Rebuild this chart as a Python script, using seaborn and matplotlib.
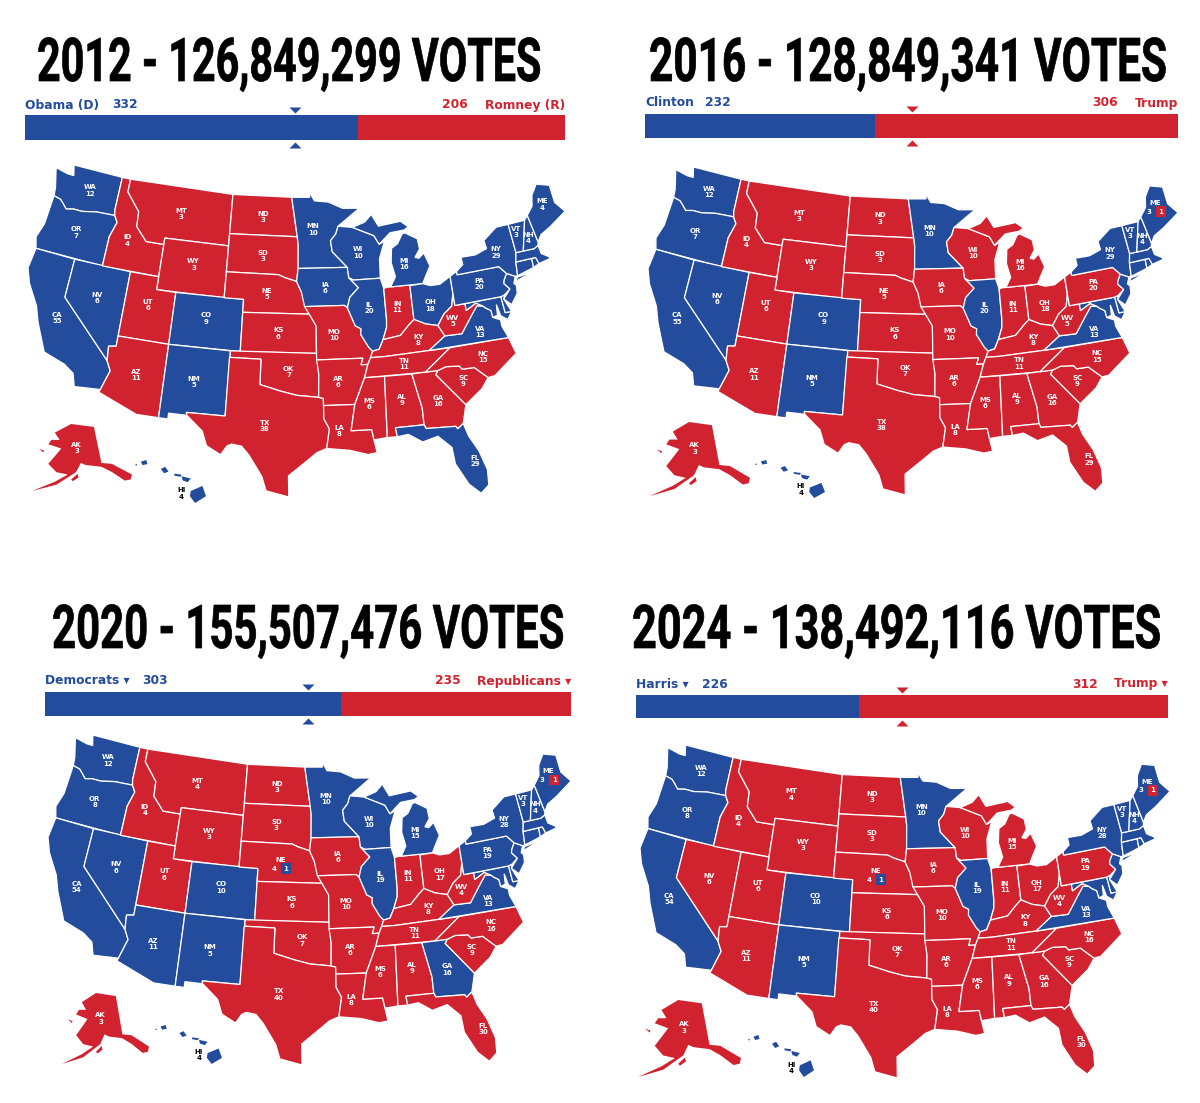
import numpy as np
import pandas as pd
import matplotlib
matplotlib.use('Agg')
import matplotlib.pyplot as plt
import matplotlib.patheffects as pe
from matplotlib.path import Path
from matplotlib.transforms import Affine2D
import seaborn as sns

W, H = 1200, 1103
azul = '#234c9c'
vermelho = '#d1232f'

# dados das eleicoes
anos = [2012, 2016, 2020, 2024]
votos = ['126,849,299', '128,849,341', '155,507,476', '138,492,116']
nome_dem = ['Obama (D)', 'Clinton', 'Democrats ▾', 'Harris ▾']
nome_rep = ['Romney (R)', 'Trump', 'Republicans ▾', 'Trump ▾']
ev_dem = [332, 232, 303, 226]
ev_rep = [206, 306, 235, 312]

dem_2012 = 'WA OR CA NV CO NM MN WI IA IL MI OH PA VA FL NY VT NH ME MA RI CT NJ DE MD HI'.split()
dem_2016 = 'WA OR CA NV CO NM MN IL VA NY VT NH ME MA RI CT NJ DE MD HI'.split()
dem_2020 = 'WA OR CA NV AZ CO NM MN WI MI IL PA GA VA NY VT NH ME MA RI CT NJ DE MD HI'.split()
dem_2024 = 'WA OR CA CO NM MN IL VA NY VT NH ME MA RI CT NJ DE MD HI'.split()
dem_por_ano = [dem_2012, dem_2016, dem_2020, dem_2024]

# votos eleitorais mostrados nos mapas (2012 e 2016 / 2020 e 2024)
ev_2010 = dict(WA=12, OR=7, CA=55, NV=6, ID=4, MT=3, WY=3, UT=6, CO=9, AZ=11, NM=5, ND=3, SD=3, NE=5,
               KS=6, OK=7, TX=38, MN=10, IA=6, MO=10, AR=6, LA=8, WI=10, IL=20, IN=11, MI=16, OH=18,
               KY=8, TN=11, MS=6, AL=9, GA=16, FL=29, SC=9, NC=15, VA=13, WV=5, PA=20, NY=29, VT=3,
               NH=4, ME=4, AK=3, HI=4)
ev_2020 = dict(WA=12, OR=8, CA=54, NV=6, ID=4, MT=4, WY=3, UT=6, CO=10, AZ=11, NM=5, ND=3, SD=3, NE=5,
               KS=6, OK=7, TX=40, MN=10, IA=6, MO=10, AR=6, LA=8, WI=10, IL=19, IN=11, MI=15, OH=17,
               KY=8, TN=11, MS=6, AL=9, GA=16, FL=30, SC=9, NC=16, VA=13, WV=4, PA=19, NY=28, VT=3,
               NH=4, ME=4, AK=3, HI=4)
ev_por_ano = [ev_2010, ev_2010, ev_2020, ev_2020]
maine_dividido = [False, True, True, True]
nebraska_dividido = [False, False, True, True]

# contornos dos estados (lon, lat), lidos a mao
estados = {
    'WA': [[(-124.7,48.4),(-123.2,48.2),(-122.5,48.2),(-122.8,49),(-117.03,49),(-117.04,46.4),(-116.92,45.99),(-119,45.93),(-120.5,45.7),(-121.5,45.7),(-122.3,45.55),(-122.8,45.9),(-123.2,46.15),(-124,46.27),(-124.1,46.9)]],
    'OR': [[(-124,46.27),(-123.2,46.15),(-122.8,45.9),(-122.3,45.55),(-121.5,45.7),(-120.5,45.7),(-119,45.93),(-116.92,45.99),(-116.5,45.5),(-117,44.3),(-117.03,42),(-124.2,42),(-124.55,42.85),(-124.1,44)]],
    'CA': [[(-124.2,42),(-120,42),(-120,39),(-114.63,35),(-114.15,34.27),(-114.72,32.72),(-117.12,32.53),(-117.5,33.5),(-118.5,34.03),(-120.6,34.55),(-121.9,36.6),(-122.5,37.8),(-123.8,39.3),(-124.4,40.4)]],
    'NV': [[(-120,42),(-114.04,42),(-114.04,36.2),(-114.75,36.1),(-114.63,35),(-120,39)]],
    'ID': [[(-117.03,49),(-116.05,49),(-116.05,48),(-114.4,46.65),(-114.3,45.5),(-113,44.5),(-111.05,44.5),(-111.05,42),(-117.03,42),(-117,44.3),(-116.5,45.5),(-116.92,45.99),(-117.04,46.4)]],
    'MT': [[(-116.05,49),(-104.05,49),(-104.05,45),(-111.05,45),(-111.05,44.5),(-113,44.5),(-114.3,45.5),(-114.4,46.65),(-116.05,48)]],
    'WY': [[(-111.05,45),(-104.05,45),(-104.05,41),(-111.05,41)]],
    'UT': [[(-114.04,42),(-111.05,42),(-111.05,41),(-109.05,41),(-109.05,37),(-114.04,37)]],
    'CO': [[(-109.05,41),(-102.05,41),(-102.05,37),(-109.05,37)]],
    'AZ': [[(-114.04,37),(-109.05,37),(-109.05,31.33),(-111.07,31.33),(-114.81,32.5),(-114.72,32.72),(-114.15,34.27),(-114.63,35),(-114.75,36.1),(-114.04,36.2)]],
    'NM': [[(-109.05,37),(-103,37),(-103.05,32),(-106.6,32),(-106.53,31.78),(-108.2,31.78),(-108.2,31.33),(-109.05,31.33)]],
    'ND': [[(-104.05,49),(-97.23,49),(-96.56,45.94),(-104.05,45.94)]],
    'SD': [[(-104.05,45.94),(-96.56,45.94),(-96.45,45.3),(-96.45,43.5),(-96.6,42.5),(-97.9,42.8),(-98.5,43),(-104.05,43)]],
    'NE': [[(-104.05,43),(-98.5,43),(-97.9,42.8),(-96.6,42.5),(-96.1,41.7),(-95.3,40),(-102.05,40),(-102.05,41),(-104.05,41)]],
    'KS': [[(-102.05,40),(-95.3,40),(-94.6,39.1),(-94.62,37),(-102.05,37)]],
    'OK': [[(-103,37),(-94.62,37),(-94.43,35.4),(-94.48,33.64),(-96.5,33.8),(-98,34.1),(-100,34.56),(-100,36.5),(-103,36.5)]],
    'TX': [[(-103.05,36.5),(-100,36.5),(-100,34.56),(-98,34.1),(-96.5,33.8),(-94.48,33.64),(-94.04,33.55),(-94.04,31.99),(-93.55,31.2),(-93.84,29.7),(-94.7,29.4),(-95.4,28.9),(-97.2,27.6),(-97.15,25.96),(-99.1,26.4),(-99.5,27.5),(-100.7,29.1),(-101.4,29.77),(-102.3,29.88),(-102.7,29.7),(-103.2,29),(-104.5,29.6),(-105,30.7),(-106.53,31.78),(-106.6,32),(-103.05,32)]],
    'MN': [[(-97.23,49),(-95.15,49),(-95.15,49.38),(-94.6,48.72),(-93,48.6),(-91.4,48.07),(-89.5,48),(-92,46.7),(-92.3,46.1),(-92.9,45.6),(-92.75,44.75),(-91.2,43.5),(-96.45,43.5),(-96.45,45.3),(-96.56,45.94)]],
    'IA': [[(-96.45,43.5),(-91.2,43.5),(-91.1,42.7),(-90.15,41.9),(-91.1,41.2),(-91.4,40.4),(-91.7,40.6),(-95.77,40.58),(-96.1,41.7),(-96.6,42.5)]],
    'MO': [[(-95.77,40.58),(-91.7,40.6),(-91.4,40.4),(-90.7,39),(-90.15,38.75),(-90.2,38.3),(-89.5,37.3),(-89.15,36.98),(-89.4,36.5),(-89.7,36),(-90.37,36),(-90.15,36.5),(-94.62,36.5),(-94.62,39.1),(-95.3,40)]],
    'AR': [[(-94.62,36.5),(-90.15,36.5),(-90.37,36),(-89.7,36),(-90.1,35),(-91.15,33),(-94.04,33),(-94.04,33.55),(-94.48,33.64),(-94.43,35.4)]],
    'LA': [[(-94.04,33),(-91.15,33),(-91.6,31),(-89.75,31),(-89.6,30.2),(-89.4,29.2),(-90.2,29.1),(-91.8,29.5),(-93.84,29.7),(-93.55,31.2),(-94.04,31.99)]],
    'WI': [[(-92,46.7),(-90.4,46.55),(-88.1,45.8),(-87.6,45.1),(-87,45.3),(-87.7,44),(-87.8,42.5),(-90.64,42.5),(-91.1,42.7),(-91.2,43.5),(-92.75,44.75),(-92.9,45.6),(-92.3,46.1)]],
    'IL': [[(-90.64,42.5),(-87.8,42.5),(-87.53,41.7),(-87.53,39.3),(-87.6,38.7),(-88.05,37.8),(-88.5,37.1),(-89.15,36.98),(-89.5,37.3),(-90.2,38.3),(-90.15,38.75),(-90.7,39),(-91.4,40.4),(-91.1,41.2),(-90.15,41.9),(-91.1,42.7)]],
    'IN': [[(-87.53,41.7),(-87.2,41.76),(-84.8,41.76),(-84.8,39.1),(-85.4,38.7),(-86.3,38),(-88.05,37.8),(-87.6,38.7),(-87.53,39.3)]],
    'MI': [[(-86.8,41.76),(-83.45,41.73),(-83.1,42.2),(-82.45,43),(-82.9,44.05),(-83.5,43.7),(-83.9,43.8),(-83.3,44.4),(-83.4,45.2),(-84.7,45.78),(-85,45.7),(-85.6,45),(-86.3,44.7),(-86.5,43.6),(-86.2,42.5)],
           [(-90.4,46.55),(-89,46.9),(-88.2,47.45),(-87.5,46.5),(-85,46.7),(-84.2,46.2),(-84.7,46),(-86.3,45.9),(-87.6,45.1),(-88.1,45.8)]],
    'OH': [[(-84.8,41.7),(-83.45,41.73),(-82.7,41.5),(-81.7,41.5),(-80.52,41.98),(-80.52,40.64),(-80.85,39.7),(-81.75,39.2),(-82.5,38.4),(-83.7,38.65),(-84.8,39.1)]],
    'KY': [[(-89.4,36.5),(-88.07,36.5),(-83.68,36.6),(-81.97,37.54),(-82.5,38.4),(-83.7,38.65),(-84.8,39.1),(-85.4,38.7),(-86.3,38),(-88.05,37.8),(-88.5,37.1),(-89.15,36.98)]],
    'TN': [[(-90.1,35),(-84.32,34.99),(-81.65,36.59),(-83.68,36.6),(-88.07,36.5),(-89.4,36.5),(-89.7,36)]],
    'MS': [[(-91.15,33),(-90.1,35),(-88.2,35),(-88.4,30.3),(-89.6,30.2),(-89.75,31),(-91.6,31)]],
    'AL': [[(-88.2,35),(-85.6,34.98),(-85,32.3),(-85,31),(-87.6,31),(-87.5,30.3),(-88.4,30.3)]],
    'GA': [[(-85.6,34.98),(-83.1,35),(-83.35,34.7),(-81,32.1),(-81.5,30.7),(-82.05,30.36),(-82.2,30.57),(-84.86,30.7),(-85,31),(-85,32.3)]],
    'FL': [[(-87.6,31),(-85,31),(-84.86,30.7),(-82.2,30.57),(-82.05,30.36),(-81.5,30.7),(-81.2,29.7),(-80.5,28.4),(-80.05,26.9),(-80.15,25.7),(-80.9,25.15),(-81.8,26),(-82.7,27.7),(-82.8,29),(-83.9,30),(-85.3,29.7),(-86.5,30.4),(-87.5,30.3)]],
    'SC': [[(-83.1,35),(-82.3,35.2),(-81.05,35.1),(-80.8,34.82),(-79.67,34.8),(-78.55,33.86),(-79.3,33.1),(-81,32.1),(-83.35,34.7)]],
    'NC': [[(-84.32,34.99),(-83.1,35),(-82.3,35.2),(-81.05,35.1),(-80.8,34.82),(-79.67,34.8),(-78.55,33.86),(-77.9,33.9),(-76.5,34.7),(-75.5,35.25),(-75.9,36.55),(-81.65,36.59)]],
    'VA': [[(-83.68,36.6),(-75.9,36.55),(-76.3,37.5),(-76.3,38),(-77,38.3),(-77.05,38.85),(-77.5,39.1),(-77.75,39.3),(-78.35,39.4),(-79,38.8),(-80.3,37.5),(-81.97,37.54)]],
    'WV': [[(-81.97,37.54),(-80.3,37.5),(-79,38.8),(-78.35,39.4),(-77.75,39.3),(-78.4,39.62),(-79.48,39.2),(-79.48,39.72),(-80.52,39.72),(-80.52,40.64),(-80.85,39.7),(-81.75,39.2),(-82.5,38.4)]],
    'MD': [[(-79.48,39.72),(-75.79,39.72),(-75.7,38.46),(-75.05,38.45),(-75.6,37.9),(-76.2,38.3),(-76.4,39.2),(-76.5,38.4),(-77,38.3),(-77.05,38.85),(-77.5,39.1),(-77.75,39.3),(-78.4,39.62),(-79.48,39.2)]],
    'DE': [[(-75.79,39.72),(-75.4,39.8),(-75.55,39.5),(-75.05,38.45),(-75.7,38.46)]],
    'PA': [[(-80.52,41.98),(-79.76,42.27),(-79.76,42),(-75.35,42),(-74.7,41.36),(-75.1,40.9),(-75.2,40.65),(-74.72,40.15),(-75.4,39.8),(-75.79,39.72),(-80.52,39.72)]],
    'NJ': [[(-74.7,41.36),(-73.9,41),(-74.2,40.5),(-74,40.3),(-74.1,39.7),(-74.9,38.95),(-75.55,39.5),(-74.72,40.15),(-75.2,40.65),(-75.1,40.9)]],
    'NY': [[(-79.76,42.27),(-79.76,42),(-75.35,42),(-74.7,41.36),(-73.9,41),(-73.65,41),(-73.5,42.05),(-73.25,42.75),(-73.35,45),(-74.7,45),(-76.3,44.2),(-76.2,43.55),(-77.5,43.25),(-79.05,43.27),(-79,42.7)],
           [(-74,40.6),(-72,41.05),(-73.7,40.9)]],
    'CT': [[(-73.5,42.05),(-71.8,42.02),(-71.85,41.32),(-73.65,41)]],
    'RI': [[(-71.8,42.02),(-71.38,42.02),(-71.2,41.5),(-71.85,41.32)]],
    'MA': [[(-73.5,42.05),(-73.25,42.75),(-71.3,42.7),(-70.8,42.87),(-70.7,42.2),(-70,41.8),(-70,41.65),(-71.2,41.5),(-71.38,42.02)]],
    'VT': [[(-73.25,42.75),(-72.46,42.73),(-71.5,45),(-73.35,45)]],
    'NH': [[(-72.46,42.73),(-71.3,42.7),(-70.8,42.87),(-70.7,43.1),(-71.08,45.3),(-71.5,45)]],
    'ME': [[(-71.08,45.3),(-70.7,43.1),(-70.2,43.6),(-69,44),(-67,44.8),(-67.8,45.7),(-67.8,47.07),(-69.2,47.45),(-70,46.7),(-70.3,45.9)]],
}
# alasca e havai: desenho proprio do quadro menor
alasca = [[(125,60),(175,30),(245,40),(268,165),(300,168),(362,205),(358,222),(340,226),(300,196),(268,178),(220,172),(205,165),(190,197),(130,240),(55,262),(125,230),(165,205),(130,197),(105,168),(130,135),(145,115),(105,100),(115,85),(140,85)],
          [(175,222),(195,203),(198,215),(180,228)],
          [(76,116),(92,122),(90,128)]]
havai = [[(540,225),(572,210),(582,240),(552,260),(538,240)],
         [(515,182),(540,188),(532,199),(518,194)],
         [(495,174),(515,177),(512,183),(495,180)],
         [(458,160),(470,154),(479,168),(467,173)],
         [(403,139),(418,134),(421,146),(408,149)],
         [(387,148),(393,145),(391,151)]]
pos_rotulo_ak = (192, 113)
pos_rotulo_hi = (515, 232)

# onde fica cada rotulo (lon, lat)
rotulos = dict(WA=(-120.3,47.4), OR=(-120.6,44), CA=(-120.2,37.3), NV=(-116.8,39.5), ID=(-115,44.3), MT=(-109.7,47),
               WY=(-107.6,43.3), UT=(-111.7,39.7), CO=(-105.7,39.3), AZ=(-111.7,34.3), NM=(-106.2,34.4), ND=(-100.4,47.4),
               SD=(-100.3,44.4), NE=(-99.7,41.5), KS=(-98.4,38.5), OK=(-97.3,35.6), TX=(-99.4,31.4), MN=(-94.8,46.5),
               IA=(-93.6,42), MO=(-92.9,38.4), AR=(-92.6,34.8), LA=(-92.7,31), WI=(-90,44.6), IL=(-89.2,40.3),
               IN=(-86.3,40.2), MI=(-85.1,43.4), OH=(-83,40), KY=(-84.6,37.5), TN=(-86.2,35.8), MS=(-89.8,33),
               AL=(-86.8,33.1), GA=(-83.5,32.7), FL=(-81,27.7), SC=(-80.9,33.9), NC=(-78.7,35.5), VA=(-78.5,37.4),
               WV=(-81,38.6), PA=(-77.7,41), NY=(-75.3,43.1), VT=(-72.7,44.3), NH=(-71.6,43.6), ME=(-69.2,45.8))

# caixas em pixels de cada painel
pos_titulo = [(37, 540, 81), (649, 1166, 81), (52, 563, 648), (632, 1160, 648)]
altura_titulo = 43
pos_barra = [(25, 565, 115, 140), (645, 1178, 114, 138), (45, 571, 692, 716), (636, 1168, 695, 718)]
pos_nomes = [(105, 112, 468, 100), (103, 705, 1118, 695), (681, 142, 461, 132), (684, 702, 1098, 695)]
pos_mapa = [(28, 565, 165, 497), (648, 1178, 167, 495), (48, 571, 735, 1065), (640, 1170, 745, 1078)]
pos_ak = [(32, 132, 424, 491), (650, 750, 422, 496), (62, 149, 993, 1064), (638, 741, 1000, 1077)]
pos_hi = [(135, 206, 460, 503), (755, 825, 460, 498), (155, 222, 1025, 1064), (748, 814, 1035, 1077)]
hi_cortado = [False, False, True, False]

triangulo_baixo = Path([(-1, 0.5), (1, 0.5), (0, -0.5), (-1, 0.5)], closed=True)
triangulo_cima = Path([(-1, -0.5), (1, -0.5), (0, 0.5), (-1, -0.5)], closed=True)


class Alta(pe.AbstractPathEffect):
    # estica o texto na vertical, o titulo original usa fonte condensada
    def __init__(self, fator, traco=0.5):
        super().__init__()
        self.fator = fator
        self.traco = traco

    def draw_path(self, renderer, gc, tpath, affine, rgbFace):
        novo = Affine2D().scale(1, self.fator) + affine
        gc0 = renderer.new_gc()
        gc0.copy_properties(gc)
        gc0.set_linewidth(self.traco)
        gc0.set_foreground('black')
        renderer.draw_path(gc0, tpath, novo, rgbFace)
        gc0.restore()


def albers(pts, lon0=-96, lat0=37.5, p1=29.5, p2=45.5):
    pts = np.radians(np.array(pts, dtype=float))
    lon0, lat0, p1, p2 = np.radians([lon0, lat0, p1, p2])
    n = (np.sin(p1) + np.sin(p2)) / 2
    c = np.cos(p1) ** 2 + 2 * n * np.sin(p1)
    rho = np.sqrt(c - 2 * n * np.sin(pts[:, 1])) / n
    rho0 = np.sqrt(c - 2 * n * np.sin(lat0)) / n
    theta = n * (pts[:, 0] - lon0)
    return rho * np.sin(theta), rho0 - rho * np.cos(theta)


def quadro(pts):
    pts = np.array(pts, dtype=float)
    return pts[:, 0], -pts[:, 1]


def caixa(fig, x0, x1, y0, y1):
    return fig.add_axes([x0 / W, 1 - y1 / H, (x1 - x0) / W, (y1 - y0) / H])


def desenha(ax, aneis, cor, proj):
    xs, ys = [], []
    for anel in aneis:
        x, y = proj(anel)
        ax.fill(x, y, facecolor=cor, edgecolor='none')
        xs.extend(x)
        ys.extend(y)
    ax.set_xlim(min(xs), max(xs))
    ax.set_ylim(min(ys), max(ys))
    ax.axis('off')
    ax.patch.set_alpha(0)


sns.set_theme(style='white')
plt.rcParams['font.family'] = ['DejaVu Sans']

fig = plt.figure(figsize=(W / 100, H / 100), dpi=100, facecolor='white')
fundo = fig.add_axes([0, 0, 1, 1])
fundo.set_xlim(0, W)
fundo.set_ylim(H, 0)
fundo.axis('off')
render = fig.canvas.get_renderer()

for i, ano in enumerate(anos):
    # titulo: tamanho ajustado pela largura, altura esticada depois
    tx0, tx1, ty = pos_titulo[i]
    t = fundo.text(tx0, ty, f'{ano} - {votos[i]} VOTES', ha='left', va='baseline', color='black', fontsize=20,
                   fontweight='bold', family=['Roboto', 'DejaVu Sans'])
    tamanho = 20 * (tx1 - tx0) / t.get_window_extent(render).width
    t.set_fontsize(tamanho)
    t.set_path_effects([Alta(altura_titulo / (0.711 * tamanho * 100 / 72))])

    # nomes e numeros acima da barra
    ny, n1, n2, n3 = pos_nomes[i]
    x0, x1, y0, y1 = pos_barra[i]
    fundo.text(x0, ny, nome_dem[i], color=azul, fontsize=8.8, fontweight='bold', va='center')
    fundo.text(n1, ny, str(ev_dem[i]), color=azul, fontsize=8.8, fontweight='bold', va='center')
    fundo.text(n2, ny, str(ev_rep[i]), color=vermelho, fontsize=8.8, fontweight='bold', va='center', ha='right')
    fundo.text(x1, ny, nome_rep[i], color=vermelho, fontsize=8.8, fontweight='bold', va='center', ha='right')

    # barra de votos eleitorais
    ax = caixa(fig, x0, x1, y0, y1)
    total = ev_dem[i] + ev_rep[i]
    sns.barplot(x=[total], y=[0], orient='h', color=vermelho, saturation=1, width=1, linewidth=0, ax=ax)
    sns.barplot(x=[ev_dem[i]], y=[0], orient='h', color=azul, saturation=1, width=1, linewidth=0, ax=ax)
    vencedor = azul if ev_dem[i] > ev_rep[i] else vermelho
    meio = pd.DataFrame({'x': [total / 2], 'y': [-0.7]})
    sns.scatterplot(data=meio, x='x', y='y', marker=triangulo_baixo, color=vencedor, s=75, clip_on=False, linewidth=0, ax=ax)
    meio['y'] = 0.7
    sns.scatterplot(data=meio, x='x', y='y', marker=triangulo_cima, color=vencedor, s=75, clip_on=False, linewidth=0, ax=ax)
    ax.set_xlim(0, total)
    ax.set_ylim(0.5, -0.5)
    ax.axis('off')

    # mapa
    x0, x1, y0, y1 = pos_mapa[i]
    ax = caixa(fig, x0, x1, y0, y1)
    dem = dem_por_ano[i]
    ev = ev_por_ano[i]
    xs, ys = [], []
    for uf, aneis in estados.items():
        for anel in aneis:
            x, y = albers(anel)
            ax.fill(x, y, facecolor=azul if uf in dem else vermelho, edgecolor='white', linewidth=0.9)
            xs.extend(x)
            ys.extend(y)
    ax.set_xlim(min(xs), max(xs))
    ax.set_ylim(min(ys), max(ys))
    ax.axis('off')
    ax.patch.set_alpha(0)

    estilo = dict(color='white', fontsize=5, fontweight='bold', ha='center', va='center', linespacing=1.05)
    for uf, ponto in rotulos.items():
        px, py = albers([ponto])
        texto = f'{uf}\n{ev[uf]}'
        if (uf == 'ME' and maine_dividido[i]) or (uf == 'NE' and nebraska_dividido[i]):
            # estado dividido: parte do voto vai para o outro lado
            outra = vermelho if uf == 'ME' else azul
            ax.text(px[0], py[0], uf, va='bottom', **{k: v for k, v in estilo.items() if k != 'va'})
            ax.annotate(str(ev[uf] - 1), (px[0], py[0]), xytext=(-4.5, -4), textcoords='offset points', **estilo)
            ax.annotate('1', (px[0], py[0]), xytext=(4, -4), textcoords='offset points',
                        bbox=dict(boxstyle='square,pad=0.35', fc=outra, ec='none'), **estilo)
        else:
            ax.text(px[0], py[0], texto, **estilo)

    # alasca
    x0, x1, y0, y1 = pos_ak[i]
    ax = caixa(fig, x0, x1, y0, y1)
    desenha(ax, alasca, vermelho, quadro)
    px, py = quadro([pos_rotulo_ak])
    ax.text(px[0], py[0], f"AK\n{ev['AK']}", **estilo)

    # havai
    x0, x1, y0, y1 = pos_hi[i]
    ax = caixa(fig, x0, x1, y0, y1)
    desenha(ax, havai, azul, quadro)
    px, py = quadro([pos_rotulo_hi])
    rotulo = ax.text(px[0], py[0], f"HI\n{ev['HI']}", **{**estilo, 'color': 'black'})
    rotulo.set_clip_on(hi_cortado[i])

fig.savefig('out.png', dpi=100, facecolor='white')
